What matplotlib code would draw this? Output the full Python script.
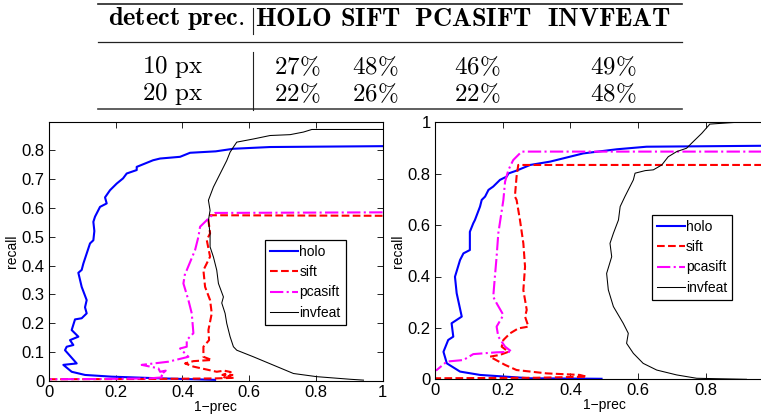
"""Recall vs 1-precision curves for four detectors, with a results table on top."""

from matplotlib import pyplot as plt
from matplotlib.lines import Line2D

# * -------------------------------------------------------------------------------- * #
# * DATA

table_header = ["detect prec.", "HOLO", "SIFT", "PCASIFT", "INVFEAT"]
table_rows = ["10 px", "20 px"]
holo_pct = [27, 22]
sift_pct = [48, 26]
pcasift_pct = [46, 22]
invfeat_pct = [49, 48]

labels = ["holo", "sift", "pcasift", "invfeat"]

# Left panel
holo_l_x = [1.0, 0.663, 0.553, 0.50, 0.423, 0.393, 0.333, 0.312, 0.263, 0.263, 0.233,
            0.222, 0.203, 0.183, 0.168, 0.173, 0.153, 0.138, 0.133, 0.136, 0.133, 0.123,
            0.113, 0.103, 0.098, 0.088, 0.098, 0.113, 0.108, 0.113, 0.098, 0.078, 0.068,
            0.088, 0.063, 0.073, 0.053, 0.048, 0.083, 0.043, 0.068, 0.108, 0.188, 0.338,
            0.498]
holo_l_y = [0.815, 0.812, 0.806, 0.797, 0.792, 0.778, 0.772, 0.766, 0.743, 0.732, 0.72,
            0.703, 0.685, 0.662, 0.637, 0.616, 0.604, 0.57, 0.552, 0.52, 0.488, 0.477,
            0.442, 0.407, 0.385, 0.375, 0.326, 0.28, 0.255, 0.234, 0.217, 0.213, 0.176,
            0.153, 0.141, 0.124, 0.118, 0.106, 0.06, 0.055, 0.031, 0.02, 0.014, 0.008,
            0.003]
sift_l_x = [1.0, 0.483, 0.478, 0.483, 0.473, 0.483, 0.463, 0.468, 0.483, 0.488, 0.478,
            0.48, 0.463, 0.463, 0.488, 0.433, 0.408, 0.433, 0.503, 0.525, 0.545, 0.52,
            0.55, 0.525, 0.555, 0.50, 0.30, 0.0]
sift_l_y = [0.573, 0.575, 0.558, 0.512, 0.489, 0.431, 0.384, 0.326, 0.28, 0.234, 0.176,
            0.141, 0.118, 0.083, 0.072, 0.068, 0.06, 0.049, 0.031, 0.035, 0.03, 0.02,
            0.02, 0.012, 0.01, 0.008, 0.006, 0.005]
pca_l_x = [1.0, 0.498, 0.483, 0.453, 0.448, 0.438, 0.413, 0.408, 0.403, 0.418, 0.428,
           0.433, 0.413, 0.413, 0.393, 0.418, 0.358, 0.278, 0.328, 0.333, 0.35, 0.335,
           0.345, 0.30, 0.15, 0.0]
pca_l_y = [0.585, 0.583, 0.569, 0.535, 0.50, 0.454, 0.384, 0.373, 0.338, 0.28, 0.234,
           0.165, 0.141, 0.118, 0.112, 0.083, 0.066, 0.055, 0.043, 0.031, 0.035, 0.02,
           0.012, 0.008, 0.006, 0.005]
inv_l_x = [1.0, 0.788, 0.763, 0.723, 0.663, 0.613, 0.563, 0.553, 0.543, 0.533, 0.513,
           0.493, 0.478, 0.483, 0.478, 0.483, 0.483, 0.493, 0.503, 0.508, 0.523, 0.518,
           0.528, 0.533, 0.543, 0.553, 0.563, 0.613, 0.673, 0.733, 0.803, 0.903, 0.943]
inv_l_y = [0.873, 0.873, 0.864, 0.855, 0.852, 0.84, 0.829, 0.812, 0.794, 0.765, 0.719,
           0.673, 0.627, 0.592, 0.557, 0.511, 0.465, 0.43, 0.384, 0.338, 0.291, 0.27,
           0.234, 0.199, 0.153, 0.118, 0.106, 0.083, 0.054, 0.025, 0.014, 0.005, 0.002]

# Right panel
holo_r_x = [1.0, 0.625, 0.537, 0.438, 0.34, 0.281, 0.241, 0.217, 0.212, 0.192, 0.172,
            0.158, 0.148, 0.138, 0.133, 0.118, 0.113, 0.103, 0.103, 0.084, 0.074, 0.059,
            0.064, 0.079, 0.049, 0.054, 0.039, 0.025, 0.035, 0.074, 0.133, 0.281, 0.492]
holo_r_y = [0.909, 0.905, 0.895, 0.879, 0.847, 0.834, 0.812, 0.801, 0.789, 0.776, 0.75,
            0.737, 0.711, 0.698, 0.672, 0.62, 0.607, 0.574, 0.503, 0.49, 0.464, 0.399,
            0.335, 0.244, 0.218, 0.166, 0.153, 0.107, 0.062, 0.03, 0.017, 0.004, 0.002]
sift_r_x = [1.0, 0.246, 0.241, 0.236, 0.241, 0.251, 0.261, 0.266, 0.261, 0.271, 0.266,
            0.276, 0.246, 0.222, 0.202, 0.197, 0.217, 0.192, 0.162, 0.207, 0.241, 0.33,
            0.428, 0.448, 0.30, 0.0]
sift_r_y = [0.834, 0.834, 0.789, 0.711, 0.698, 0.62, 0.529, 0.438, 0.347, 0.27, 0.244,
            0.205, 0.198, 0.179, 0.153, 0.127, 0.107, 0.095, 0.088, 0.056, 0.036, 0.023,
            0.017, 0.01, 0.006, 0.004]
pca_r_x = [1.0, 0.256, 0.231, 0.217, 0.207, 0.202, 0.187, 0.182, 0.177, 0.172, 0.182,
           0.202, 0.182, 0.187, 0.207, 0.227, 0.182, 0.113, 0.084, 0.035, 0.005, 0.0]
pca_r_y = [0.886, 0.886, 0.853, 0.815, 0.769, 0.698, 0.568, 0.477, 0.40, 0.321, 0.296,
           0.25, 0.205, 0.166, 0.127, 0.107, 0.105, 0.098, 0.075, 0.069, 0.036, 0.035]
inv_r_x = [1.0, 0.891, 0.812, 0.788, 0.763, 0.743, 0.714, 0.689, 0.67, 0.645, 0.621,
           0.591, 0.586, 0.576, 0.561, 0.547, 0.542, 0.527, 0.517, 0.522, 0.507, 0.512,
           0.527, 0.556, 0.571, 0.566, 0.586, 0.615, 0.655, 0.714, 0.773, 0.92]
inv_r_y = [1.0, 1.0, 0.993, 0.957, 0.925, 0.899, 0.886, 0.866, 0.834, 0.815, 0.812,
           0.802, 0.776, 0.75, 0.711, 0.672, 0.62, 0.568, 0.529, 0.477, 0.412, 0.348,
           0.283, 0.218, 0.179, 0.14, 0.101, 0.062, 0.036, 0.017, 0.004, 0.0]

# * -------------------------------------------------------------------------------- * #
# * STYLE

W, H = 761, 418
plt.rcParams["font.family"] = ["Liberation Sans", "DejaVu Sans"]
plt.rcParams["mathtext.fontset"] = "cm"

styles = {
    "holo": dict(color="#0000ff", ls="-", lw=1.5),
    "sift": dict(color="#ff0000", ls="--", lw=1.5),
    "pcasift": dict(color="#ff00ff", ls="-.", lw=1.5),
    "invfeat": dict(color="black", ls="-", lw=0.75),
}


def px_box(x0, y0, x1, y1):
    """Pixel box (top-left origin) to figure fraction rect."""
    return [x0 / W, 1 - y1 / H, (x1 - x0) / W, (y1 - y0) / H]


def draw_panel(ax, curves, ylim, yticks, legend_anchor, xticklabels):
    for label, (xs, ys) in zip(labels, curves):
        ax.plot(xs, ys, label=label, **styles[label])
    ax.set_xlim(0, 1)
    ax.set_ylim(*ylim)
    ax.set_xticks([0, 0.2, 0.4, 0.6, 0.8, 1])
    ax.set_xticklabels(xticklabels)
    ax.set_yticks(yticks)
    ax.set_yticklabels([f"{t:g}" for t in yticks])
    ax.tick_params(direction="in", top=True, right=True, length=4, width=0.6,
                   labelsize=12, pad=3)
    for spine in ax.spines.values():
        spine.set_linewidth(0.8)
    ax.set_xlabel("1\u2212prec", fontsize=10, labelpad=0)
    ax.set_ylabel("recall", fontsize=10, labelpad=2)
    leg = ax.legend(
        loc="upper left",
        bbox_to_anchor=legend_anchor,
        fontsize=10,
        frameon=True,
        fancybox=False,
        edgecolor="black",
        framealpha=1,
        borderaxespad=0,
        borderpad=0.35,
        handlelength=2.0,
        handletextpad=0.1,
        labelspacing=0.45,
    )
    leg.get_frame().set_linewidth(0.9)


# * -------------------------------------------------------------------------------- * #
# * FIGURE

fig = plt.figure(figsize=(W / 100, H / 100), dpi=100)

# Table (pixel coordinates)
tab = fig.add_axes([0, 0, 1, 1])
tab.set_xlim(0, W)
tab.set_ylim(H, 0)
tab.axis("off")

col_x = [176, 293, 371, 473, 609]
row_y = [67, 94]
tab.add_line(Line2D([98, 682], [4, 4], color="#222222", lw=1.2))
tab.add_line(Line2D([98, 682], [42, 42], color="#222222", lw=0.9))
tab.add_line(Line2D([98, 682], [109, 109], color="#444444", lw=1.2))
tab.add_line(Line2D([253, 253], [8, 34], color="#222222", lw=0.8))
tab.add_line(Line2D([253, 253], [52, 110], color="#222222", lw=0.8))

for x, head in zip(col_x, table_header):
    tab.text(x, 19, "$\\mathbf{" + head.replace(" ", "\\ ") + "}$",
             ha="center", va="center", fontsize=19)

values = [holo_pct, sift_pct, pcasift_pct, invfeat_pct]
for i, (y, row) in enumerate(zip(row_y, table_rows)):
    tab.text(col_x[0] - 3, y, "$\\mathrm{" + row.replace(" ", "\\ ") + "}$",
             ha="center", va="center", fontsize=18)
    for x, col in zip(col_x[1:], values):
        tab.text(x + 4, y, f"${col[i]}\\%$", ha="center", va="center", fontsize=18)

# Plots
ax_l = fig.add_axes(px_box(49, 121.7, 382.5, 380.7))
draw_panel(
    ax_l,
    [(holo_l_x, holo_l_y), (sift_l_x, sift_l_y), (pca_l_x, pca_l_y), (inv_l_x, inv_l_y)],
    (0, 0.9),
    [0, 0.1, 0.2, 0.3, 0.4, 0.5, 0.6, 0.7, 0.8],
    (0.649, 0.543),
    ["0", "0.2", "0.4", "0.6", "0.8", "1"],
)

# The right panel runs past the figure edge, so its last tick label is not shown
ax_r = fig.add_axes(px_box(435, 122.3, 773.5, 379.3))
draw_panel(
    ax_r,
    [(holo_r_x, holo_r_y), (sift_r_x, sift_r_y), (pca_r_x, pca_r_y), (inv_r_x, inv_r_y)],
    (0, 1),
    [0, 0.2, 0.4, 0.6, 0.8, 1],
    (0.641, 0.639),
    ["0", "0.2", "0.4", "0.6", "0.8", ""],
)

fig.savefig("out.png", dpi=100)
